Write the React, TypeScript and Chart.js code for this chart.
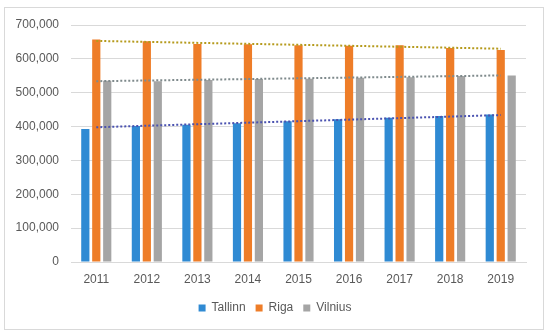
import React, { useEffect, useRef } from "react";
import { Chart, registerables } from "chart.js";

Chart.register(...registerables);

const years = ["2011", "2012", "2013", "2014", "2015", "2016", "2017", "2018", "2019"];
const tallinn = [393000, 402000, 405500, 409500, 415500, 421500, 426000, 431000, 436000];
const riga = [657000, 652000, 644000, 643000, 640000, 639000, 640000, 632000, 626000];
const vilnius = [535000, 533500, 537500, 540500, 541000, 544000, 546000, 549000, 551000];
// trendline endpoints (first and last year)
const tallinnTrend = [398000, null, null, null, null, null, null, null, 434000];
const rigaTrend = [653000, null, null, null, null, null, null, null, 630000];
const vilniusTrend = [534000, null, null, null, null, null, null, null, 551000];
const yTicksMax = 700000;
const yTicksStep = 100000;

const FONT = "'Liberation Sans', Arial, sans-serif";
const TEXT = "#595959";

const frame = {
  id: "frame",
  beforeDraw(chart: any) {
    const ctx = chart.ctx;
    ctx.save();
    ctx.fillStyle = "#ffffff";
    ctx.fillRect(0, 0, chart.width, chart.height);
    ctx.strokeStyle = "#d9d9d9";
    ctx.lineWidth = 1;
    ctx.strokeRect(4.5, 7.5, 539, 322);
    ctx.restore();
  },
};

const centerLegend = {
  id: "centerLegend",
  afterLayout(chart: any) {
    const lg = chart.legend;
    if (lg) {
      const shift = (chart.width - (lg.left + lg.right)) / 2;
      lg.left += shift;
      lg.right += shift;
    }
  },
};

export default function App() {
  const ref = useRef<HTMLCanvasElement>(null);
  useEffect(() => {
    document.body.style.margin = "0";
    const trendStyle = (color: string) => ({
      type: "line" as const,
      borderColor: color,
      borderWidth: 2,
      borderDash: [2, 2],
      pointRadius: 0,
      spanGaps: true,
      fill: false,
      order: 0,
    });
    const chart = new Chart(ref.current!, {
      type: "bar",
      data: {
        labels: years,
        datasets: [
          { label: "Tallinn", data: tallinn, backgroundColor: "#2F8AD3", order: 1 },
          { label: "Riga", data: riga, backgroundColor: "#EE7D28", order: 1 },
          { label: "Vilnius", data: vilnius, backgroundColor: "#A5A5A5", order: 1 },
          { label: "trendT", data: tallinnTrend, ...trendStyle("#4A52B0") } as any,
          { label: "trendR", data: rigaTrend, ...trendStyle("#B59A1C") } as any,
          { label: "trendV", data: vilniusTrend, ...trendStyle("#7F8A8C") } as any,
        ],
      },
      options: {
        animation: false,
        responsive: false,
        maintainAspectRatio: false,
        layout: { padding: { left: 0, right: 24, top: 25, bottom: 12 } },
        datasets: { bar: { categoryPercentage: 0.65, barPercentage: 0.75 } },
        plugins: {
          tooltip: { enabled: false },
          legend: {
            position: "bottom",
            labels: {
              filter: (item: any) => !item.text.startsWith("trend"),
              boxWidth: 7,
              boxHeight: 7,
              padding: 10,
              color: TEXT,
              font: { family: FONT, size: 12 },
            },
          },
        },
        scales: {
          x: {
            grid: { display: false, drawTicks: false },
            border: { display: true, color: "#d9d9d9" },
            ticks: { color: TEXT, font: { family: FONT, size: 12 }, padding: 10 },
            afterFit: (s: any) => {
              s.height = 30;
            },
          },
          y: {
            min: 0,
            max: yTicksMax,
            grid: { color: "#d9d9d9", drawTicks: false },
            border: { display: false },
            ticks: {
              stepSize: yTicksStep,
              color: TEXT,
              padding: 12,
              font: { family: FONT, size: 12 },
              callback: (v: any) => Number(v).toLocaleString("en-US"),
            },
            afterFit: (s: any) => {
              s.width = 71;
            },
          },
        },
      },
      plugins: [frame, centerLegend],
    });
    return () => chart.destroy();
  }, []);
  return <canvas ref={ref} width={550} height={336} style={{ display: "block" }} />;
}
